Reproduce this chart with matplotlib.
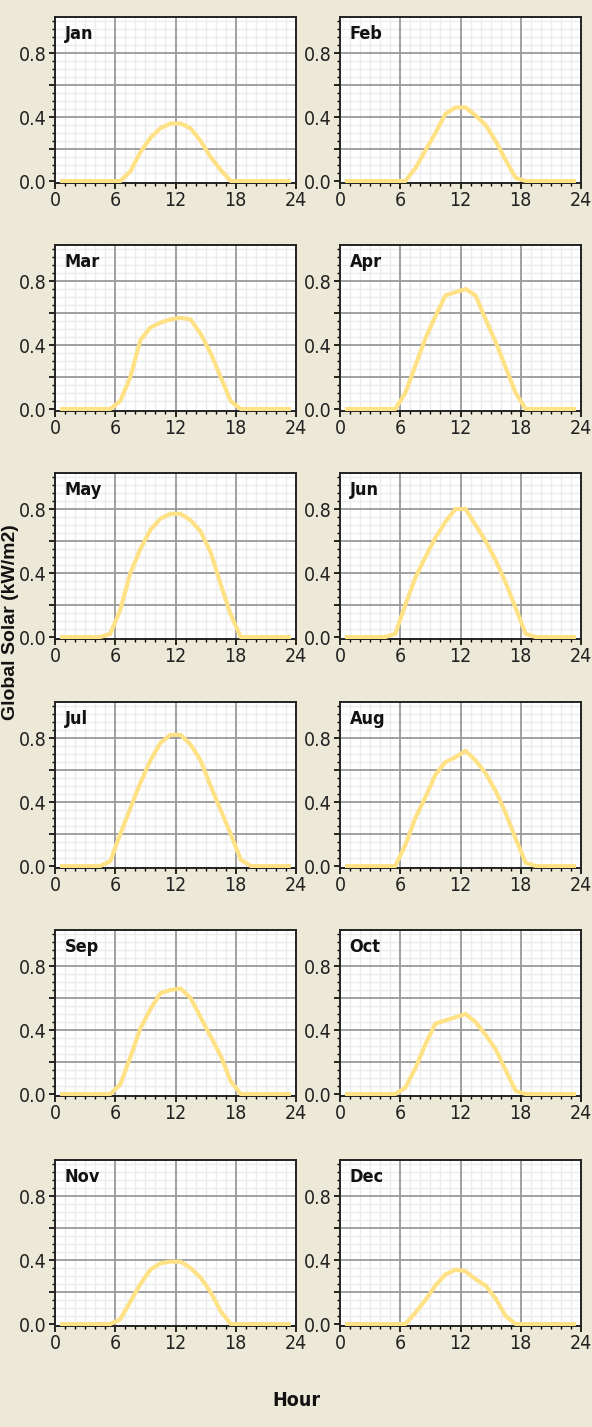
import matplotlib
matplotlib.use("Agg")
import matplotlib.pyplot as plt
from matplotlib.ticker import MultipleLocator, FixedLocator

# hourly average global solar, kW/m2, sampled at the middle of each hour
hours = [h + 0.5 for h in range(24)]
months = ['Jan', 'Feb', 'Mar', 'Apr', 'May', 'Jun',
          'Jul', 'Aug', 'Sep', 'Oct', 'Nov', 'Dec']

jan = [0, 0, 0, 0, 0, 0, 0, 0.06, 0.18, 0.27, 0.33, 0.36, 0.36, 0.33, 0.25, 0.15, 0.07, 0, 0, 0, 0, 0, 0, 0]
feb = [0, 0, 0, 0, 0, 0, 0, 0.08, 0.19, 0.30, 0.42, 0.46, 0.46, 0.41, 0.35, 0.25, 0.13, 0.02, 0, 0, 0, 0, 0, 0]
mar = [0, 0, 0, 0, 0, 0, 0.05, 0.20, 0.43, 0.51, 0.54, 0.56, 0.57, 0.56, 0.47, 0.35, 0.20, 0.05, 0, 0, 0, 0, 0, 0]
apr = [0, 0, 0, 0, 0, 0, 0.10, 0.27, 0.44, 0.58, 0.71, 0.73, 0.75, 0.71, 0.56, 0.42, 0.26, 0.10, 0, 0, 0, 0, 0, 0]
may = [0, 0, 0, 0, 0, 0.02, 0.17, 0.40, 0.55, 0.67, 0.74, 0.77, 0.77, 0.73, 0.66, 0.53, 0.33, 0.14, 0, 0, 0, 0, 0, 0]
jun = [0, 0, 0, 0, 0, 0.02, 0.20, 0.37, 0.50, 0.62, 0.72, 0.80, 0.80, 0.70, 0.60, 0.48, 0.34, 0.18, 0.02, 0, 0, 0, 0, 0]
jul = [0, 0, 0, 0, 0, 0.03, 0.20, 0.36, 0.52, 0.66, 0.77, 0.82, 0.82, 0.76, 0.66, 0.50, 0.35, 0.20, 0.04, 0, 0, 0, 0, 0]
aug = [0, 0, 0, 0, 0, 0, 0.13, 0.30, 0.43, 0.57, 0.65, 0.68, 0.72, 0.66, 0.58, 0.47, 0.33, 0.17, 0.02, 0, 0, 0, 0, 0]
sep = [0, 0, 0, 0, 0, 0, 0.06, 0.23, 0.41, 0.53, 0.63, 0.65, 0.66, 0.60, 0.48, 0.36, 0.24, 0.08, 0, 0, 0, 0, 0, 0]
oct_ = [0, 0, 0, 0, 0, 0, 0.04, 0.16, 0.31, 0.44, 0.46, 0.48, 0.50, 0.45, 0.37, 0.28, 0.15, 0.02, 0, 0, 0, 0, 0, 0]
nov = [0, 0, 0, 0, 0, 0, 0.03, 0.14, 0.25, 0.34, 0.38, 0.39, 0.39, 0.35, 0.29, 0.20, 0.08, 0, 0, 0, 0, 0, 0, 0]
dec = [0, 0, 0, 0, 0, 0, 0, 0.07, 0.15, 0.24, 0.31, 0.34, 0.33, 0.28, 0.24, 0.16, 0.05, 0, 0, 0, 0, 0, 0, 0]

series = [jan, feb, mar, apr, may, jun, jul, aug, sep, oct_, nov, dec]

xmajor = [0, 6, 12, 18, 24]
ymajor = [0, 0.2, 0.4, 0.6, 0.8]
ylabels = ['0.0', '', '0.4', '', '0.8']

bg = '#ECE9D8'
line_color = '#FFE286'
narrow = dict(family='DejaVu Sans', stretch='condensed')

W, H = 592, 1427
fig = plt.figure(figsize=(W / 100, H / 100), dpi=100, facecolor=bg)

col_left = [55, 340]
ax_w = 241
row_top = [17, 245, 473, 702, 930, 1160]
ax_h = 166

for i, (name, vals) in enumerate(zip(months, series)):
    r, c = divmod(i, 2)
    left = col_left[c] / W
    bottom = 1 - (row_top[r] + ax_h) / H
    ax = fig.add_axes([left, bottom, ax_w / W, ax_h / H])
    ax.set_facecolor('white')

    ax.set_xlim(0, 24)
    ax.set_ylim(-0.012, 1.025)
    ax.xaxis.set_major_locator(FixedLocator(xmajor))
    ax.xaxis.set_minor_locator(MultipleLocator(1))
    ax.yaxis.set_major_locator(FixedLocator(ymajor))
    ax.yaxis.set_minor_locator(MultipleLocator(0.05))
    ax.set_yticklabels(ylabels)

    # light minor grid underneath, darker major grid lines on top of it
    ax.grid(which='minor', color='#ECECEC', lw=1.0)
    ax.set_axisbelow(True)
    for x in xmajor[1:-1]:
        ax.axvline(x, color='#9A9A9A', lw=1.3, zorder=1)
    for y in ymajor[1:]:
        ax.axhline(y, color='#9A9A9A', lw=1.3, zorder=1)

    ax.plot(hours, vals, color=line_color, lw=3, solid_capstyle='butt', zorder=3)

    ax.tick_params(which='major', direction='out', length=4, width=1.2,
                   color='black', labelsize=14, pad=2)
    ax.tick_params(which='minor', direction='out', length=2, width=1.0,
                   color='black')
    for lbl in ax.get_xticklabels() + ax.get_yticklabels():
        lbl.set_family('DejaVu Sans')
        lbl.set_stretch('condensed')
        lbl.set_color('#222222')

    for sp in ax.spines.values():
        sp.set_color('#222222')
        sp.set_linewidth(1.4)

    ax.text(0.04, 0.95, name, transform=ax.transAxes, ha='left', va='top',
            fontsize=13, fontweight='bold', color='#111111', **narrow)

fig.text(11 / W, 1 - 622 / H, 'Global Solar (kW/m2)', rotation=90,
         ha='center', va='center', fontsize=14, fontweight='bold',
         family=['Liberation Sans', 'DejaVu Sans'], color='#111111')
fig.text(296 / W, 1 - 1400 / H, 'Hour', ha='center', va='center',
         fontsize=14, fontweight='bold', color='#111111', **narrow)

fig.savefig('out.png', dpi=100, facecolor=bg)
